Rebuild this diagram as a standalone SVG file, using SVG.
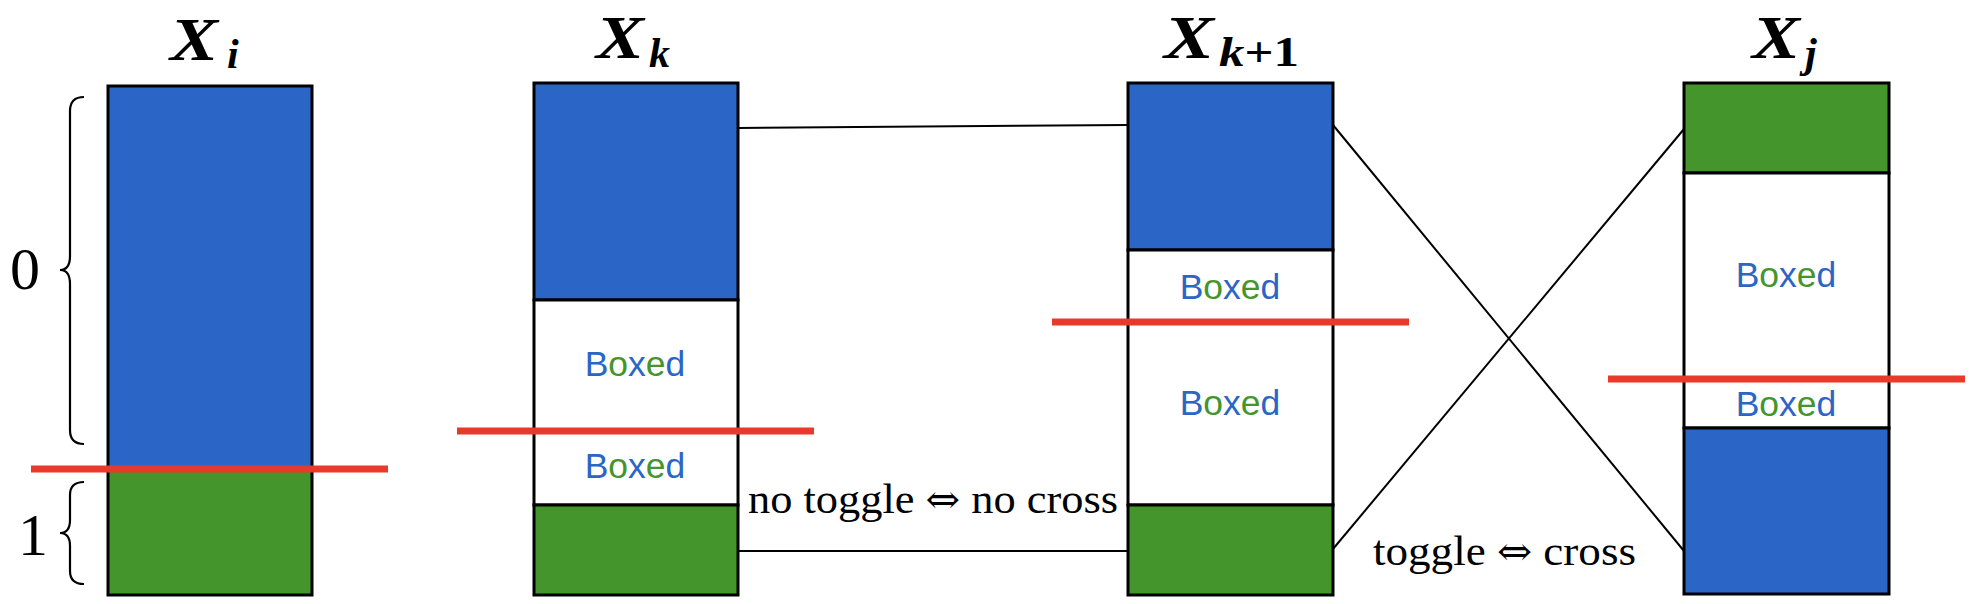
<svg xmlns="http://www.w3.org/2000/svg" width="1974" height="604" viewBox="0 0 1974 604">
<style>
.seg{stroke:#000;stroke-width:3}
.blue{fill:#2B65C6}
.green{fill:#44952B}
.white{fill:#fff}
.cut{stroke:#E9392A;stroke-width:7}
.con{stroke:#000;stroke-width:2;fill:none}
.brace{stroke:#000;stroke-width:2.2;fill:none}
.tx{font-family:"Liberation Serif","DejaVu Serif",serif;font-weight:bold;font-style:italic;font-size:62px;fill:#000}
.sub{font-family:"Liberation Serif","DejaVu Serif",serif;font-weight:bold;font-style:italic;font-size:42px;fill:#000}
.num{font-family:"Liberation Serif","DejaVu Serif",serif;font-size:60px;fill:#000}
.lbl{font-family:"Liberation Serif","DejaVu Serif",serif;font-size:43px;fill:#000}
.arr{font-family:"DejaVu Serif","DejaVu Sans",serif;font-size:40px}
.boxed{font-family:"Liberation Sans",Arial,sans-serif;font-size:35.5px;text-anchor:middle}
.b{fill:#2B65C6}
.g{fill:#44952B}
</style>
<rect width="1974" height="604" fill="#fff"/>

<g id="Xi">
<rect class="seg blue" x="108" y="86" width="204" height="384"/>
<rect class="seg green" x="108" y="470" width="204" height="125"/>
<text class="tx" x="170" y="60" textLength="48" lengthAdjust="spacingAndGlyphs">X</text>
<text class="sub" x="227" y="68">i</text>
<path class="brace" d="M 84 97 Q 70 97 70 111 L 70 256 Q 70 270 60 270 Q 70 270 70 284 L 70 430 Q 70 444 84 444"/>
<path class="brace" d="M 84 482 Q 70 482 70 495 L 70 520 Q 70 533 60 533 Q 70 533 70 546 L 70 571 Q 70 584 84 584"/>
<text class="num" x="25" y="289" text-anchor="middle">0</text>
<text class="num" x="33" y="555" text-anchor="middle">1</text>
</g>

<g id="Xk">
<rect class="seg blue" x="534" y="83" width="204" height="217"/>
<rect class="seg white" x="534" y="300" width="204" height="205"/>
<rect class="seg green" x="534" y="505" width="204" height="90"/>
<text class="tx" x="596" y="58" textLength="48" lengthAdjust="spacingAndGlyphs">X</text>
<text class="sub" x="649" y="67">k</text>
<text class="boxed" x="635" y="376"><tspan class="b">B</tspan><tspan class="g">o</tspan><tspan class="b">x</tspan><tspan class="g">e</tspan><tspan class="b">d</tspan></text>
<text class="boxed" x="635" y="478"><tspan class="b">B</tspan><tspan class="g">o</tspan><tspan class="b">x</tspan><tspan class="g">e</tspan><tspan class="b">d</tspan></text>
</g>

<g id="Xk1">
<rect class="seg blue" x="1128" y="83" width="205" height="167"/>
<rect class="seg white" x="1128" y="250" width="205" height="255"/>
<rect class="seg green" x="1128" y="505" width="205" height="90"/>
<text class="tx" x="1164" y="58" textLength="50" lengthAdjust="spacingAndGlyphs">X</text>
<text class="sub" x="1219" y="66" textLength="80" lengthAdjust="spacingAndGlyphs">k<tspan font-style="normal">+1</tspan></text>
<text class="boxed" x="1230" y="299"><tspan class="b">B</tspan><tspan class="g">o</tspan><tspan class="b">x</tspan><tspan class="g">e</tspan><tspan class="b">d</tspan></text>
<text class="boxed" x="1230" y="415"><tspan class="b">B</tspan><tspan class="g">o</tspan><tspan class="b">x</tspan><tspan class="g">e</tspan><tspan class="b">d</tspan></text>
</g>

<g id="Xj">
<rect class="seg green" x="1684" y="83" width="205" height="90"/>
<rect class="seg white" x="1684" y="173" width="205" height="255"/>
<rect class="seg blue" x="1684" y="428" width="205" height="166"/>
<text class="tx" x="1752" y="58" textLength="48" lengthAdjust="spacingAndGlyphs">X</text>
<text class="sub" x="1805" y="67">j</text>
<text class="boxed" x="1786" y="287"><tspan class="b">B</tspan><tspan class="g">o</tspan><tspan class="b">x</tspan><tspan class="g">e</tspan><tspan class="b">d</tspan></text>
<text class="boxed" x="1786" y="416"><tspan class="b">B</tspan><tspan class="g">o</tspan><tspan class="b">x</tspan><tspan class="g">e</tspan><tspan class="b">d</tspan></text>
</g>

<g id="connectors">
<line class="con" x1="738" y1="128" x2="1128" y2="125"/>
<line class="con" x1="738" y1="551" x2="1128" y2="551"/>
<line class="con" x1="1333" y1="125" x2="1684" y2="551"/>
<line class="con" x1="1333" y1="549" x2="1684" y2="129"/>
</g>

<g id="labels">
<text class="lbl" x="748" y="513" textLength="370" lengthAdjust="spacingAndGlyphs">no toggle <tspan class="arr">⇔</tspan> no cross</text>
<text class="lbl" x="1373" y="565" textLength="263" lengthAdjust="spacingAndGlyphs">toggle <tspan class="arr">⇔</tspan> cross</text>
</g>

<g id="cuts">
<line class="cut" x1="31" y1="469" x2="388" y2="469"/>
<line class="cut" x1="457" y1="431" x2="814" y2="431"/>
<line class="cut" x1="1052" y1="322" x2="1409" y2="322"/>
<line class="cut" x1="1608" y1="379" x2="1965" y2="379"/>
</g>
</svg>
